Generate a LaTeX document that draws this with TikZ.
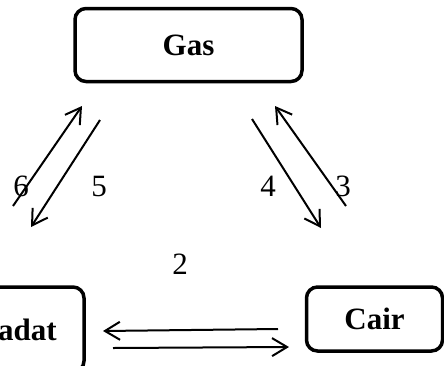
\documentclass[tikz,border=0pt]{standalone}
\usepackage{fontspec}
\setmainfont{Liberation Serif}
\usetikzlibrary{arrows.meta}
\begin{document}
\begin{tikzpicture}[x=1pt,y=-1pt,
  phase/.style={draw,line width=3.5pt,rounded corners=11pt,inner sep=0pt,
    font=\fontsize{31}{36}\selectfont\bfseries},
  flow/.style={line width=2pt,-{Straight Barb[length=15pt,width=18pt,line width=2pt]}},
  num/.style={font=\fontsize{31}{36}\selectfont,inner sep=0pt}]
\useasboundingbox (0,0) rectangle (444,365);
\clip (0,0) rectangle (444,365);
\node[phase,minimum width=227pt,minimum height=73pt] (gas) at (188.5,45) {Gas};
\node[phase,minimum width=132pt,minimum height=85pt] (padat) at (18,329.5) {Padat};
\node[phase,minimum width=136pt,minimum height=64pt] (cair) at (374.5,319) {Cair};
% arrow end points
\coordinate (a6s) at (13,206);  \coordinate (a6e) at (82,106);
\coordinate (a5s) at (100,120); \coordinate (a5e) at (31,227);
\coordinate (a4s) at (252,119); \coordinate (a4e) at (321,228);
\coordinate (a3s) at (346,206); \coordinate (a3e) at (275,106);
\coordinate (a1s) at (278,329); \coordinate (a1e) at (103,331);
\coordinate (a2s) at (113,348); \coordinate (a2e) at (289,347);
\draw[flow] (a6s) -- (a6e);
\draw[flow] (a5s) -- (a5e);
\draw[flow] (a4s) -- (a4e);
\draw[flow] (a3s) -- (a3e);
\draw[flow] (a1s) -- (a1e);
\draw[flow] (a2s) -- (a2e);
\node[num] (n6) at (21,186) {6};
\node[num] (n5) at (99,186) {5};
\node[num] (n4) at (268,186) {4};
\node[num] (n3) at (343,186) {3};
\node[num] (n2) at (180,264) {2};
\end{tikzpicture}
\end{document}
